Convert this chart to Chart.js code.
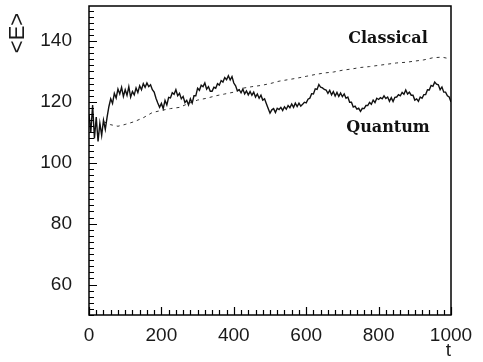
<!DOCTYPE html>
<html>
<head>
<meta charset="utf-8">
<script src="https://cdn.jsdelivr.net/npm/chart.js@4.4.1/dist/chart.umd.min.js"></script>
<style>
    body { margin: 0; background: #fff; }
    #wrap { width: 483px; height: 362px; }
</style>
</head>
<body>
<div id="wrap"><canvas id="myChart" width="483" height="362"></canvas></div>
<script>
// ================================================================== Data
let xTicks = [0, 200, 400, 600, 800, 1000];
let yTicks = [60, 80, 100, 120, 140];

let quantumStep = 5; // sampled every 5 time units, t = 0 ... 1000
let quantumE = [
    116, 110, 119, 108, 115, 107, 113, 109, 114, 111,
    115, 118.5, 121, 119.5, 122.8, 121.3, 124.2, 122.6, 124.8, 121.8,
    124, 122.2, 125, 121.6, 123.4, 122.3, 124.6, 123.1, 125.3, 124,
    126, 124.8, 126.2, 125, 125.6, 124, 123.2, 121.2, 119.6, 118.2,
    119.5, 117.8, 120.5, 119, 121.5, 121.3, 123, 122.5, 124, 122,
    122.8, 121, 121.8, 119.8, 120.5, 119, 121, 119.6, 122, 122,
    124.5, 123.8, 125.5, 125, 126.2, 124.2, 125, 123.5, 123.5, 124.8,
    124.5, 126, 125.5, 127, 126.5, 128, 127.3, 128.6, 127.2, 128.3,
    126.2, 125.3, 123.6, 124, 123, 124.2, 122.6, 123.6, 122.3, 123.4,
    122.2, 123.2, 121.6, 122.6, 121.2, 122.2, 120.6, 121, 119.4, 117.8,
    116.3, 117.4, 117.8, 116.5, 117.9, 117.5, 118.2, 117.2, 118.4, 117.6,
    118.8, 118.1, 119.3, 118.2, 119.6, 118.5, 119.6, 118.6, 119.2, 119.9,
    119.7, 120.9, 121.2, 122.7, 122.6, 124.3, 124.1, 125.7, 124.8, 124.6,
    124.1, 123.9, 122.8, 123.8, 122.3, 123.4, 121.9, 123.1, 121.8, 122.9,
    121.7, 122.6, 121.2, 121.6, 119.9, 119.9, 118.3, 118.6, 117.6, 117.9,
    116.9, 117.9, 117.8, 118.8, 118.8, 119.8, 119.2, 120.6, 119.8, 121.2,
    120.8, 121.4, 121, 122, 121.1, 121.6, 120.2, 121.4, 120.1, 121.5,
    121.6, 122.4, 122, 123.1, 122.5, 123.9, 122.6, 123.2, 122.2, 122.2,
    120.6, 121, 120.2, 121.6, 121.2, 122.4, 122.4, 124, 123.9, 125.4,
    125.1, 126.5, 125.8, 125.6, 124, 124.9, 123.2, 123.2, 122, 121.6,
    120
];

let classicalT = [40, 60, 80, 100, 125, 150, 175, 200, 225, 250, 275, 300, 325, 350, 375, 400,
    425, 450, 475, 500, 525, 550, 575, 600, 625, 650, 675, 700, 725, 750, 775, 800,
    825, 850, 875, 900, 925, 950, 975, 995];
let classicalE = [113.5, 112.5, 112, 112.6, 113.5, 114.8, 116.5, 117.2, 117.8, 118.2, 119.5, 120.6, 121.2, 122, 122.6, 123.2,
    124.5, 125, 125.4, 126, 126.8, 127.3, 127.8, 128.4, 129, 129.5, 129.8, 130.4, 130.8, 131.3, 131.6, 132,
    132.4, 132.8, 133, 133.4, 133.8, 134.5, 134.7, 134.2];

// curve labels, placed in data coordinates
let curveNames = ['Classical', 'Quantum'];
let curveNameT = [826, 826];
let curveNameE = [140.8, 111.5];

// ================================================================== Build points
function quantumPoints() {
    let points = [];
    for (let i = 0; i < quantumE.length; i++) {
        points.push({ x: i * quantumStep, y: quantumE[i] });
    }
    return points;
}

function classicalPoints() {
    let points = [];
    for (let i = 0; i < classicalT.length; i++) {
        points.push({ x: classicalT[i], y: classicalE[i] });
    }
    return points;
}

// ================================================================== Frame, inner ticks, labels
function drawInnerTicks(ctx, scale, from, to, step, majorEvery, horizontal, area) {
    ctx.beginPath();
    for (let v = from; v <= to + 1e-6; v += step) {
        let isMajor = Math.abs((v / majorEvery) - Math.round(v / majorEvery)) < 1e-6;
        let len = isMajor ? 8 : 5;
        let p = Math.round(scale.getPixelForValue(v)) + 0.5;
        if (horizontal) {
            ctx.moveTo(p, area.bottom);
            ctx.lineTo(p, area.bottom - len);
        } else {
            ctx.moveTo(area.left, p);
            ctx.lineTo(area.left + len, p);
        }
    }
    ctx.stroke();
}

let framePlugin = {
    id: 'frame',
    afterDraw(chart) {
        let ctx = chart.ctx;
        let area = chart.chartArea;
        let xScale = chart.scales.x;
        let yScale = chart.scales.y;
        ctx.save();
        ctx.strokeStyle = '#000';
        ctx.lineWidth = 1.5;
        ctx.strokeRect(area.left, area.top, area.right - area.left, area.bottom - area.top);

        ctx.lineWidth = 1.2;
        drawInnerTicks(ctx, xScale, 0, 1000, 20, 200, true, area);
        drawInnerTicks(ctx, yScale, 50, 150, 2, 20, false, area);

        ctx.fillStyle = '#111';
        ctx.font = 'bold 16px "DejaVu Serif"';
        ctx.textAlign = 'center';
        ctx.textBaseline = 'middle';
        for (let i = 0; i < curveNames.length; i++) {
            ctx.fillText(curveNames[i], xScale.getPixelForValue(curveNameT[i]), yScale.getPixelForValue(curveNameE[i]));
        }

        // rotated y title near the top of the axis
        ctx.translate(18, 33);
        ctx.rotate(-Math.PI / 2);
        ctx.font = '22px "Liberation Sans"';
        ctx.fillStyle = '#1a1a1a';
        ctx.fillText('<E>', 0, 0);
        ctx.restore();
    }
};

function noScalePadding(scale) {
    scale.paddingTop = 0;
    scale.paddingBottom = 0;
    scale.paddingLeft = 0;
    scale.paddingRight = 0;
}

// ================================================================== Chart
function setChart() {
    let ctx = document.getElementById('myChart');

    new Chart(ctx, {
        type: 'line',
        data: {
            datasets: [{
                label: 'Quantum',
                data: quantumPoints(),
                borderColor: '#111',
                borderWidth: 1.4,
                pointRadius: 0,
                tension: 0,
                fill: false
            }, {
                label: 'Classical',
                data: classicalPoints(),
                borderColor: '#333',
                borderWidth: 1,
                borderDash: [3, 4],
                pointRadius: 0,
                tension: 0,
                fill: false
            }]
        },
        plugins: [framePlugin],
        options: {
            responsive: false,
            animation: false,
            layout: {
                padding: { top: 6, right: 32, bottom: 0, left: 0 }
            },
            plugins: {
                legend: { display: false },
                tooltip: { enabled: false }
            },
            scales: {
                x: {
                    type: 'linear',
                    min: 0,
                    max: 1000,
                    afterBuildTicks: function (scale) {
                        scale.ticks = xTicks.map(v => ({ value: v }));
                    },
                    afterFit: function (scale) {
                        scale.height = 47;
                        noScalePadding(scale);
                    },
                    grid: { display: false, drawTicks: false },
                    border: { display: false },
                    ticks: {
                        padding: 9,
                        maxRotation: 0,
                        color: '#1a1a1a',
                        font: { family: 'Liberation Sans', size: 19 },
                        callback: function (value) {
                            return String(value);
                        }
                    },
                    title: {
                        display: true,
                        text: 't',
                        align: 'end',
                        color: '#1a1a1a',
                        padding: { top: 0, bottom: 0 },
                        font: { family: 'Liberation Sans', size: 19 }
                    }
                },
                y: {
                    min: 50,
                    max: 151.5,
                    afterBuildTicks: function (scale) {
                        scale.ticks = yTicks.map(v => ({ value: v }));
                    },
                    afterFit: function (scale) {
                        scale.width = 89;
                        noScalePadding(scale);
                    },
                    grid: { display: false, drawTicks: false },
                    border: { display: false },
                    ticks: {
                        padding: 17,
                        color: '#1a1a1a',
                        font: { family: 'Liberation Sans', size: 19 }
                    },
                    title: { display: false }
                }
            }
        }
    });
}

setChart();
</script>
</body>
</html>
